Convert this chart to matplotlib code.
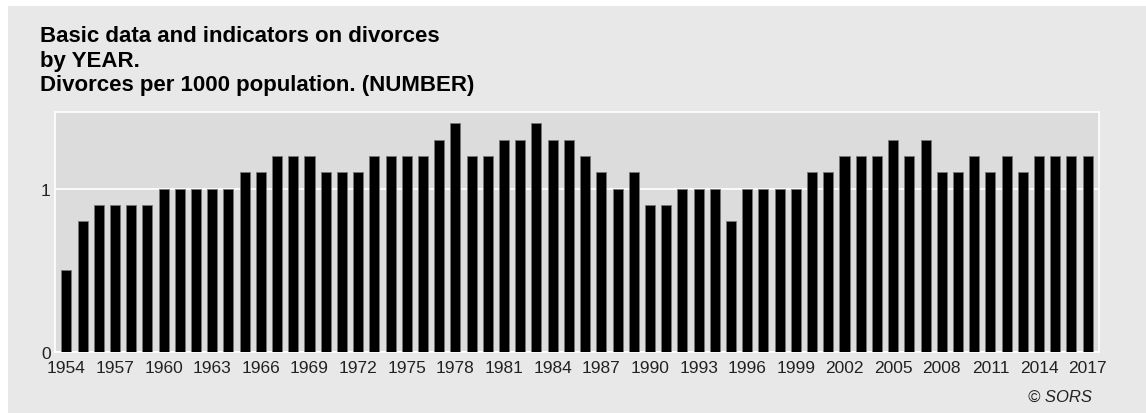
import numpy as np
import matplotlib.pyplot as plt

plt.rcParams['font.family'] = ['Liberation Sans', 'DejaVu Sans']

years = list(range(1954, 2018))
divorces = [0.5, 0.8, 0.9, 0.9, 0.9, 0.9, 1.0, 1.0, 1.0, 1.0,   # 1954-1963
            1.0, 1.1, 1.1, 1.2, 1.2, 1.2, 1.1, 1.1, 1.1, 1.2,   # 1964-1973
            1.2, 1.2, 1.2, 1.3, 1.4, 1.2, 1.2, 1.3, 1.3, 1.4,   # 1974-1983
            1.3, 1.3, 1.2, 1.1, 1.0, 1.1, 0.9, 0.9, 1.0, 1.0,   # 1984-1993
            1.0, 0.8, 1.0, 1.0, 1.0, 1.0, 1.1, 1.1, 1.2, 1.2,   # 1994-2003
            1.2, 1.3, 1.2, 1.3, 1.1, 1.1, 1.2, 1.1, 1.2, 1.1,   # 2004-2013
            1.2, 1.2, 1.2, 1.2]                                 # 2014-2017
tick_years = years[::3]

W, H = 1146, 414
fig = plt.figure(figsize=(W / 100, H / 100), dpi=100)
fig.patch.set_facecolor('white')

# outer gray panel
panel = plt.Rectangle((8 / W, 0), 1 - 8 / W, 1 - 7 / H,
                      transform=fig.transFigure, facecolor='#e8e8e8',
                      edgecolor='none', zorder=-10)
fig.add_artist(panel)

left, right, top, bottom = 55, 1099, 113, 353
ax = fig.add_axes([left / W, 1 - bottom / H, (right - left) / W,
                   (bottom - top) / H])
ax.set_facecolor('#dcdcdc')

ax.bar(years, divorces, width=0.62, color='black', edgecolor='#777777',
       linewidth=0.6, zorder=3)

ax.set_xlim(1953.3, 2017.7)
ax.set_ylim(0, 1.47)
ax.set_yticks([0, 1])
ax.set_yticklabels(['0', '1'])
ax.set_xticks(tick_years)
ax.set_xticklabels([str(y) for y in tick_years])
ax.grid(axis='y', color='white', linewidth=1.2, zorder=1)
ax.set_axisbelow(True)
ax.tick_params(length=0, labelsize=12.5, colors='#222222')
ax.tick_params(axis='x', pad=6)
ax.tick_params(axis='y', pad=3)
for sp in ax.spines.values():
    sp.set_color('white')
    sp.set_linewidth(1.2)

fig.text(40 / W, 1 - 26 / H,
         'Basic data and indicators on divorces\nby YEAR.\n'
         'Divorces per 1000 population. (NUMBER)',
         fontsize=16, fontweight='bold', va='top', ha='left',
         linespacing=1.22, color='black')
fig.text(1092 / W, 1 - 397 / H, '© SORS', fontsize=12, style='italic',
         ha='right', va='center', color='#222222')

fig.savefig('out.png', dpi=100, facecolor=fig.get_facecolor())
